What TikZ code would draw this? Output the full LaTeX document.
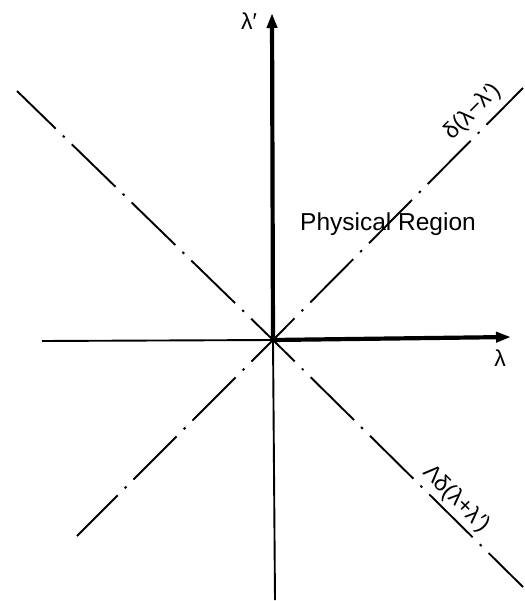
\documentclass[tikz,border=0pt]{standalone}
\usepackage{fontspec}
\setmainfont{Liberation Sans}
\usetikzlibrary{arrows.meta}
\begin{document}
\begin{tikzpicture}[x=1pt,y=-1pt,
  thinaxis/.style={line width=1.9pt},
  thickaxis/.style={line width=4.2pt,-{Triangle[length=15pt,width=10pt]}},
  diag/.style={line width=1.9pt,dash pattern=on 61pt off 10pt on 2.4pt off 10pt,dash phase=30.5pt},
  lbl/.style={inner sep=0pt,font=\fontsize{23}{27}\selectfont},
  dlbl/.style={inner sep=0pt,font=\fontsize{23}{27}\selectfont}]
\useasboundingbox[fill=white] (0,0) rectangle (524,601);
\coordinate (O) at (273,340);
\coordinate (xl) at (42,341);
\coordinate (xr) at (511,337);
\coordinate (yt) at (272,13);
\coordinate (yb) at (275,600);
\coordinate (ul) at (17,91);
\coordinate (lr) at (523,587);
\coordinate (ll) at (77,536);
\coordinate (ur) at (523,88);
\draw[thinaxis] (O) -- (xl);
\draw[thinaxis] (O) -- (yb);
\draw[diag] (O) -- (ul);
\draw[diag] (O) -- (lr);
\draw[diag] (O) -- (ll);
\draw[diag] (O) -- (ur);
\draw[thickaxis] (O) -- (xr);
\draw[thickaxis] (O) -- (yt);
\node[lbl] (lx) at (500,358) {λ};
\node[lbl] (ly) at (249,21) {λ′};
\node[inner sep=0pt,font=\fontsize{24.5}{28}\selectfont] (phys) at (388,224) {Physical Region};
\node[dlbl,rotate=45] (d1) at (473,112) {δ(λ−λ′)};
\node[dlbl,rotate=-45] (d2) at (456,499) {Λδ(λ+λ′)};
\end{tikzpicture}
\end{document}
